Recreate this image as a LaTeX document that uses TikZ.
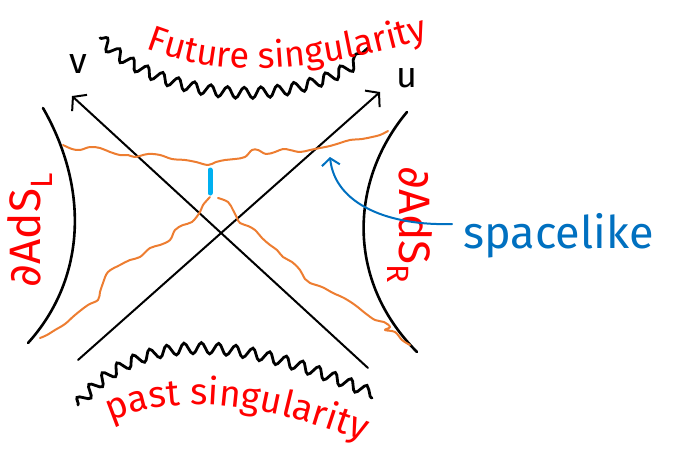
\documentclass[tikz,border=0pt]{standalone}
\usepackage{fontspec}
\setmainfont{Fira Sans}
\newfontfamily\symfont{DejaVu Sans}
\usetikzlibrary{arrows.meta,decorations.pathmorphing,decorations.text}

\definecolor{inkred}{RGB}{255,0,0}
\definecolor{inkorange}{RGB}{237,125,49}
\definecolor{inkblue}{RGB}{0,112,192}
\definecolor{inkcyan}{RGB}{0,176,240}

\tikzset{
  boundary/.style={line width=2.6pt, line cap=round},
  axis/.style={line width=2pt, line cap=round,
    -{Straight Barb[length=9pt,width=22pt,line width=2pt]}},
  singular/.style={line width=2.8pt, line cap=round, decorate,
    decoration={snake, amplitude=5.5pt, segment length=17pt}},
  slice/.style={inkorange, line width=2pt, line join=round, line cap=round},
  redtext/.style={text=inkred, font=\fontsize{44}{48}\selectfont},
}

\begin{document}
\begin{tikzpicture}[x=1pt, y=-1pt]

    \useasboundingbox (0,0) rectangle (679,460);

    % Axis end points
    \coordinate (vTail) at (368,368);
    \coordinate (vTip) at (72,96);
    \coordinate (uTail) at (78,360);
    \coordinate (uTip) at (380,92);

    % Draw the two null axes
    \draw[axis] (vTail) -- (vTip);
    \draw[axis] (uTail) -- (uTip);

    % Axis labels
    \node[font=\fontsize{36}{40}\selectfont] (vlabel) at (78,64) {v};
    \node[font=\fontsize{36}{40}\selectfont] (ulabel) at (407,78) {u};

    % Asymptotic boundaries
    \draw[boundary] (43,108) .. controls (90,190) and (85,280) .. (28,343);
    \draw[boundary] (407,112) .. controls (350,180) and (345,280) .. (417,352);

    % Singularities
    \draw[singular] (100,38) .. controls (160,100) and (300,110) .. (368,48);
    \draw[singular] (78,405) .. controls (130,340) and (220,330) .. (372,398);

    % Singularity labels
    \path[decorate, decoration={text along path, text align=center,
      text={|\color{inkred}\fontsize{36}{40}\selectfont|Future singularity}}]
      (125,40) .. controls (210,80) and (300,78) .. (450,32);
    \path[decorate, decoration={text along path, text align=center,
      text={|\color{inkred}\fontsize{37}{42}\selectfont|past singularity}}]
      (80,440) .. controls (150,386) and (262,396) .. (396,455);

    % Boundary labels
    \node[redtext, rotate=90] (adsL) at (30,230)
      {{\symfont ∂}AdS\textsubscript{L}};
    \node[redtext, rotate=-90] (adsR) at (410,225)
      {{\symfont ∂}AdS\textsubscript{R}};

    % Orange slices
    \draw[slice] plot[smooth, tension=0.6] coordinates {(63,145) (72,149)
      (80,150) (90,147) (100,148) (110,152) (120,155) (128,155) (135,157)
      (148,154) (160,155) (172,159) (185,160) (196,162) (208,165)
      (216,162) (225,160) (235,159) (245,157) (252,150) (258,150)
      (266,154) (275,152) (283,149) (290,150) (300,152) (310,150)
      (320,148) (330,146) (340,143) (350,140) (362,139) (372,137)
      (380,135) (388,131)};
    \draw[slice] plot[smooth, tension=0.6] coordinates {(210,197)
      (203,205) (200,212) (192,222) (183,225) (175,230) (170,240)
      (160,245) (150,248) (140,257) (130,260) (120,265) (108,272)
      (103,283) (100,292) (98,300) (88,305) (75,315) (65,324)
      (55,330) (47,335) (40,338)};
    \draw[slice] plot[smooth, tension=0.6] coordinates {(218,198)
      (228,202) (233,210) (237,218) (240,223) (248,226) (255,230)
      (262,238) (270,245) (277,250) (283,257) (292,262) (300,270)
      (305,279) (310,283) (322,287) (333,293) (344,298) (355,305)
      (365,313) (375,320) (384,322) (390,327) (385,330) (395,332)
      (402,340) (410,345)};

    % Short cyan segment
    \coordinate (segTop) at (210,170);
    \coordinate (segBot) at (210,193);
    \draw[inkcyan, line width=5pt, line cap=round] (segTop) -- (segBot);

    % Spacelike label and arrow
    \node[text=inkblue, font=\fontsize{45}{50}\selectfont, anchor=west]
      (spacelike) at (460,236) {spacelike};
    \coordinate (slTip) at (330,157);
    \draw[inkblue, line width=2pt, line cap=round,
      -{Straight Barb[length=7pt,width=18pt,line width=2pt]}]
      ([shift={(-8,-12)}]spacelike.west) .. controls (390,226) and (335,205) .. (slTip);

\end{tikzpicture}
\end{document}
